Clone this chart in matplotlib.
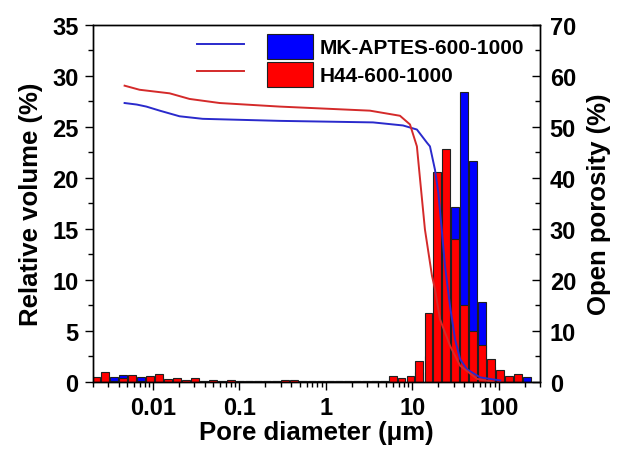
import numpy as np
import matplotlib
matplotlib.use("Agg")
import matplotlib.pyplot as plt
from matplotlib.lines import Line2D
from matplotlib.patches import Patch
from matplotlib.legend_handler import HandlerTuple

plt.rcParams['font.family'] = ['Liberation Sans', 'DejaVu Sans']
plt.rcParams['font.weight'] = 'bold'

# Pore size distribution bins (centre diameter in um)
diam = [0.00222, 0.00282, 0.00358, 0.00454, 0.00577, 0.00733, 0.00931, 0.0118,
        0.0150, 0.0191, 0.0242, 0.0308, 0.0391, 0.0496, 0.0630, 0.0800,
        0.102, 0.129, 0.164, 0.208, 0.264, 0.336, 0.426, 0.541,
        0.687, 0.873, 1.11, 1.41, 1.79, 2.27, 2.88, 3.66,
        4.65, 5.91, 7.50, 9.53, 12.1, 15.4, 19.5, 24.8,
        31.5, 40.0, 50.8, 64.5, 81.8, 104, 132, 168, 213]

# Relative volume (%) - MK-APTES-600-1000
vol_mk = [0.3, 0.6, 0.5, 0.7, 0.6, 0.45, 0.4, 0.5,
          0.15, 0.2, 0.1, 0.2, 0.05, 0.1, 0.05, 0.1,
          0.05, 0.05, 0.05, 0.05, 0.05, 0.1, 0.1, 0.05,
          0.05, 0.05, 0.05, 0.05, 0.05, 0.05, 0.05, 0.05,
          0.05, 0.3, 0.2, 0.4, 1.0, 2.5, 6.0, 12.0,
          17.2, 28.4, 21.7, 7.85, 1.5, 0.8, 0.4, 0.5, 0.45]

# Relative volume (%) - H44-600-1000
vol_h44 = [0.45, 0.95, 0.1, 0.35, 0.7, 0.1, 0.55, 0.8,
           0.25, 0.35, 0.15, 0.35, 0.05, 0.15, 0.05, 0.15,
           0.05, 0.05, 0.05, 0.05, 0.05, 0.15, 0.15, 0.05,
           0.05, 0.05, 0.05, 0.05, 0.05, 0.05, 0.05, 0.05,
           0.05, 0.6, 0.35, 0.55, 2.1, 6.8, 20.6, 22.8,
           14.0, 7.5, 5.0, 3.65, 2.25, 1.17, 0.6, 0.75, 0.0]

# Open porosity (%) curves
por_mk_d = [0.0047, 0.0065, 0.0084, 0.012, 0.0203, 0.0376, 0.293, 3.51, 7.80, 11.3,
            14.8, 16.0, 18.3, 20.0, 21.9, 23.9, 27.3, 31.2, 35.7, 42.7, 60.9, 104]
por_mk = [54.7, 54.4, 54.0, 53.2, 52.1, 51.6, 51.2, 50.9, 50.3, 49.5,
          46.9, 46.2, 41.6, 37.1, 29.9, 22.7, 14.9, 8.4, 4.5, 2.5, 0.9, 0.3]

por_h44_d = [0.0047, 0.0070, 0.0156, 0.0265, 0.0591, 0.293, 3.24, 7.20, 9.40, 11.3,
             12.3, 14.0, 16.9, 18.3, 20.9, 27.3, 35.7, 56.2, 86.1]
por_h44 = [58.1, 57.3, 56.6, 55.5, 54.7, 54.0, 53.2, 52.2, 50.5, 46.2,
           39.7, 29.9, 20.8, 18.2, 12.3, 7.1, 3.2, 0.6, 0.0]

labels = ['MK-APTES-600-1000', 'H44-600-1000']

fig = plt.figure(figsize=(6.18, 4.52), dpi=100)
ax = fig.add_axes([0.1497, 0.1527, 0.7241, 0.7898])

# bars on a log axis: fixed width in decades
d = np.array(diam)
left = d * 10 ** -0.046
width = d * 10 ** 0.046 - left
ax.bar(left, vol_mk, width=width, align='edge', color='#0000ff',
       edgecolor='#202020', linewidth=0.8)
ax.bar(left, vol_h44, width=width, align='edge', color='#ff0000',
       edgecolor='#202020', linewidth=0.8)

ax.set_xscale('log')
ax.set_xlim(0.002, 300)
ax.set_ylim(0, 35)
ax.set_yticks(np.arange(0, 36, 5))
ax.set_yticks(np.arange(2.5, 35, 5), minor=True)
ax.set_xticks([0.01, 0.1, 1, 10, 100])
ax.set_xticklabels(['0.01', '0.1', '1', '10', '100'])
ax.tick_params(axis='both', which='major', direction='out', length=6, width=1,
               labelsize=17, pad=4)
ax.tick_params(axis='both', which='minor', direction='out', length=3.5, width=1)
ax.set_xlabel('Pore diameter (\u03bcm)', fontsize=18.5, fontweight='bold', labelpad=1)
ax.set_ylabel('Relative volume (%)', fontsize=18.5, fontweight='bold', labelpad=7)

# cumulative open porosity on right axis
ax2 = ax.twinx()
ax2.plot(por_mk_d, por_mk, color='#2a2acc', linewidth=1.4)
ax2.plot(por_h44_d, por_h44, color='#d42a2a', linewidth=1.4)
ax2.set_ylim(0, 70)
ax2.set_yticks(np.arange(0, 71, 10))
ax2.set_yticks(np.arange(5, 70, 10), minor=True)
ax2.tick_params(axis='y', which='major', direction='in', length=6, width=1,
                labelsize=17, pad=7)
ax2.tick_params(axis='y', which='minor', direction='in', length=3.5, width=1)
ax2.set_ylabel('Open porosity (%)', fontsize=18.5, fontweight='bold', labelpad=8)

for a in (ax, ax2):
    for s in a.spines.values():
        s.set_linewidth(1.0)

handles = [(Line2D([], [], color='#2a2acc', linewidth=1.4),
            Patch(facecolor='#0000ff', edgecolor='#202020', linewidth=0.8)),
           (Line2D([], [], color='#d42a2a', linewidth=1.4),
            Patch(facecolor='#ff0000', edgecolor='#202020', linewidth=0.8))]
ax2.legend(handles, labels, handler_map={tuple: HandlerTuple(ndivide=2, pad=1.1)},
           loc='upper left', bbox_to_anchor=(0.233, 0.975), frameon=False,
           prop={'size': 15, 'weight': 'bold'}, handlelength=5.6, handleheight=1.45,
           handletextpad=0.3, labelspacing=0.15, borderpad=0, borderaxespad=0)

fig.savefig('out.png', dpi=100)
